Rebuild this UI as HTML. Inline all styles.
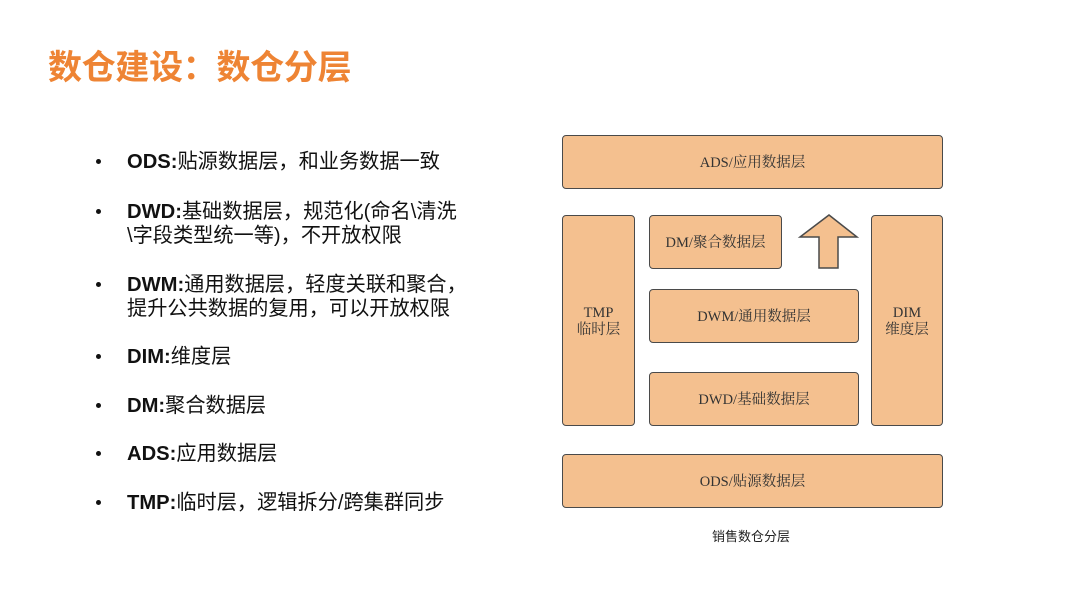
<!DOCTYPE html>
<html><head><meta charset="utf-8"><style>
body{margin:0;width:1080px;height:608px;background:#fff;position:relative;overflow:hidden;font-family:"Liberation Sans","Noto Sans CJK SC",sans-serif}
.t{position:absolute;left:48px;top:40px;font-size:34px;font-weight:bold;color:#ee8434;letter-spacing:-0.3px}
.li{position:absolute;left:127px;font-size:20.2px;color:#111;line-height:24px;white-space:nowrap}
.li b{font-weight:bold}
.dot{position:absolute;left:96px;width:5px;height:5px;border-radius:50%;background:#111}
.bx{position:absolute;background:#f4c08f;border:1.5px solid #4a4a4a;border-radius:4px;box-sizing:border-box;display:flex;align-items:center;justify-content:center;text-align:center;font-family:"Liberation Serif","Noto Serif CJK SC",serif;font-size:14.5px;color:#333;line-height:17px;padding-top:2px}
.cap{position:absolute;left:712px;top:526px;font-size:13px;color:#222}
</style></head><body>
<div class="t">数仓建设：数仓分层</div>
<div class="dot" style="top:159px"></div><div class="li" style="top:150px"><b>ODS:</b>贴源数据层，和业务数据一致</div>
<div class="dot" style="top:209px"></div><div class="li" style="top:200px"><b>DWD:</b>基础数据层，规范化(命名\清洗<br>\字段类型统一等)，不开放权限</div>
<div class="dot" style="top:282px"></div><div class="li" style="top:273px"><b>DWM:</b>通用数据层，轻度关联和聚合，<br>提升公共数据的复用，可以开放权限</div>
<div class="dot" style="top:354px"></div><div class="li" style="top:345px"><b>DIM:</b>维度层</div>
<div class="dot" style="top:403px"></div><div class="li" style="top:394px"><b>DM:</b>聚合数据层</div>
<div class="dot" style="top:451px"></div><div class="li" style="top:442px"><b>ADS:</b>应用数据层</div>
<div class="dot" style="top:500px"></div><div class="li" style="top:491px"><b>TMP:</b>临时层，逻辑拆分/跨集群同步</div>

<div class="bx" style="left:562px;top:135px;width:381px;height:54px">ADS/应用数据层</div>
<div class="bx" style="left:562px;top:215px;width:73px;height:211px">TMP<br>临时层</div>
<div class="bx" style="left:649px;top:215px;width:133px;height:54px">DM/聚合数据层</div>
<div class="bx" style="left:649px;top:289px;width:210px;height:54px">DWM/通用数据层</div>
<div class="bx" style="left:649px;top:372px;width:210px;height:54px">DWD/基础数据层</div>
<div class="bx" style="left:871px;top:215px;width:72px;height:211px">DIM<br>维度层</div>
<div class="bx" style="left:562px;top:454px;width:381px;height:54px">ODS/贴源数据层</div>
<svg style="position:absolute;left:0;top:0" width="1080" height="608"><polygon points="829,215 857,237 838,237 838,268 819,268 819,237 800,237" fill="#f4c08f" stroke="#4a4a4a" stroke-width="1.5"/></svg>
<div class="cap">销售数仓分层</div>
</body></html>
